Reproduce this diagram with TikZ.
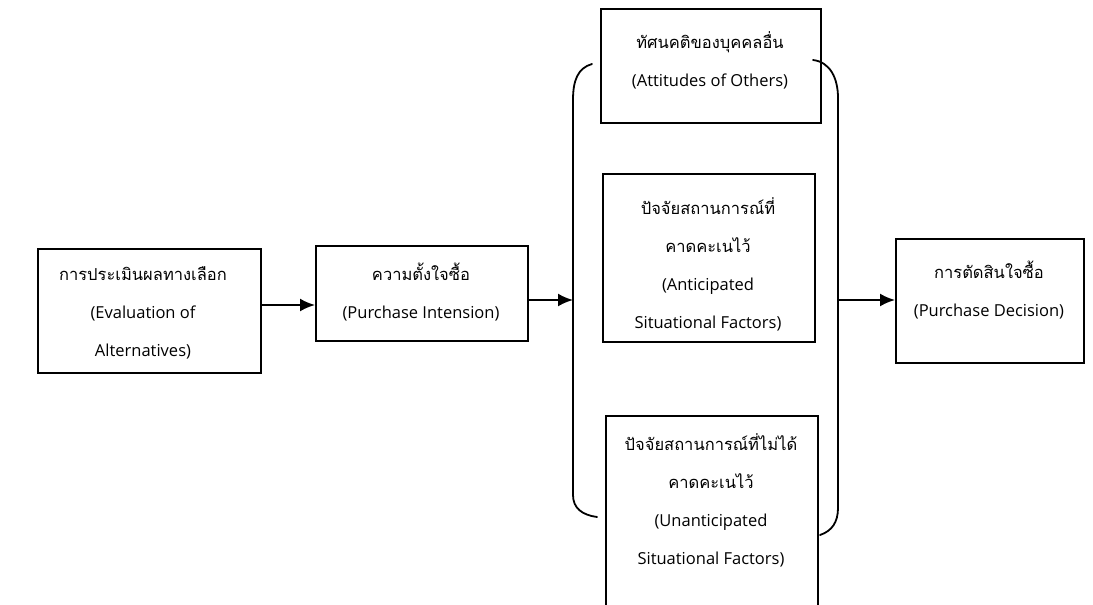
\documentclass[tikz,border=0pt]{standalone}
\usepackage{fontspec}
\setmainfont{Open Sans}
\newfontfamily\thaifont[Script=Thai]{Loma}
\usetikzlibrary{arrows.meta}
\tikzset{
  box/.style={draw=black, line width=1.8pt, rectangle, inner sep=0pt, anchor=north west},
  txt/.style={align=center, inner sep=0pt, font=\fontsize{16.5}{38}\selectfont},
  arr/.style={line width=2pt, -{Latex[length=15pt,width=13pt]}},
  brk/.style={line width=1.8pt, line cap=round}
}
\newcommand{\thx}[1]{{\thaifont #1}}
\begin{document}
\begin{tikzpicture}[x=1pt,y=-1pt]
\useasboundingbox[fill=white] (0,0) rectangle (1093,605);
\clip (0,0) rectangle (1093,605);
% boxes
\node[box, minimum width=223pt, minimum height=124pt] (b1) at (37,248) {};
\node[box, minimum width=212pt, minimum height=95pt] (b2) at (315,245) {};
\node[box, minimum width=220pt, minimum height=114pt] (b3) at (600,8) {};
\node[box, minimum width=212pt, minimum height=168pt] (b4) at (602,173) {};
\node[box, minimum width=212pt, minimum height=200pt] (b6) at (605,415) {};
\node[box, minimum width=188pt, minimum height=124pt] (b5) at (895,238) {};
% texts
\node[txt] (t1) at (143,313) {\thx{การประเมินผลทางเลือก}\\(Evaluation of\\Alternatives)};
\node[txt] (t2) at (421,292) {\thx{ความตั้งใจซื้อ}\\(Purchase Intension)};
\node[txt] (t3) at (710,60) {\thx{ทัศนคติของบุคคลอื่น}\\(Attitudes of Others)};
\node[txt] (t4) at (708,264) {\thx{ปัจจัยสถานการณ์ที่}\\\thx{คาดคะเนไว้}\\(Anticipated\\Situational Factors)};
\node[txt] (t6) at (711,500) {\thx{ปัจจัยสถานการณ์ที่ไม่ได้}\\\thx{คาดคะเนไว้}\\(Unanticipated\\Situational Factors)};
\node[txt] (t5) at (989,290) {\thx{การตัดสินใจซื้อ}\\(Purchase Decision)};
% bracket
\coordinate (brL) at (573,300);
\coordinate (brR) at (838,300);
\draw[brk] (592,64) .. controls (578,68) and (573,80) .. (573,100) -- (573,495) .. controls (573,508) and (582,515) .. (597,517);
\draw[brk] (813,60) .. controls (830,62) and (838,78) .. (838,98) -- (838,508) .. controls (838,522) and (832,531) .. (820,535);
% arrows
\coordinate (a1) at (315,305);
\draw[arr] (b1.east |- a1) -- (b2.west |- a1);
\draw[arr] (b2.east |- brL) -- (brL);
\draw[arr] (brR) -- (b5.west |- brR);
\end{tikzpicture}
\end{document}
